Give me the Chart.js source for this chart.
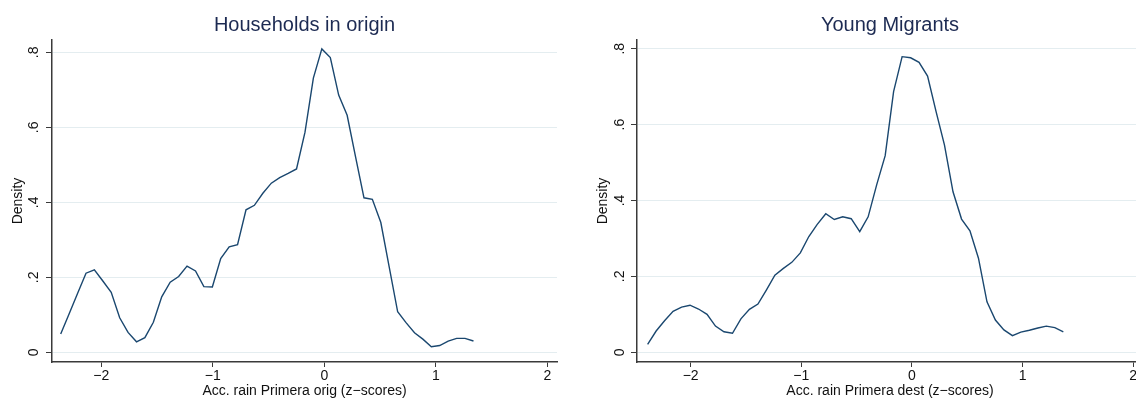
<!DOCTYPE html>
<html>
<head>
<meta charset="utf-8">
<script src="https://cdn.jsdelivr.net/npm/chart.js@4/dist/chart.umd.min.js"></script>
<style>
  html, body { margin: 0; padding: 0; background: #fff; overflow: hidden; width: 1136px; height: 400px; }
  .panel { position: absolute; top: 0; height: 400px; }
  #p1 { left: 0; width: 568px; }
  #p2 { left: 568px; width: 600px; }
</style>
</head>
<body>
<div class="panel" id="p1"><canvas id="c1" width="568" height="400"></canvas></div>
<div class="panel" id="p2"><canvas id="c2" width="600" height="400"></canvas></div>
<script>
// Axis ticks shared by both panels
const xTicks = [-2, -1, 0, 1, 2];
const xTickLabels = ['−2', '−1', '0', '1', '2'];
const yTicks = [0, 0.2, 0.4, 0.6, 0.8];
const yTickLabels = ['0', '.2', '.4', '.6', '.8'];

// Kernel density: households in origin
const originX = [-2.364, -2.288, -2.213, -2.137, -2.062, -1.986, -1.911, -1.835, -1.760, -1.684,
                 -1.609, -1.533, -1.458, -1.382, -1.306, -1.231, -1.155, -1.080, -1.004, -0.929,
                 -0.853, -0.778, -0.702, -0.627, -0.551, -0.475, -0.400, -0.324, -0.249, -0.173,
                 -0.098, -0.022, 0.054, 0.129, 0.205, 0.280, 0.356, 0.431, 0.507, 0.582,
                 0.658, 0.733, 0.809, 0.884, 0.960, 1.035, 1.111, 1.187, 1.262, 1.338];
const originDensity = [0.049, 0.103, 0.157, 0.211, 0.220, 0.190, 0.160, 0.092, 0.053, 0.028,
                       0.039, 0.080, 0.148, 0.187, 0.202, 0.230, 0.217, 0.175, 0.174, 0.250,
                       0.281, 0.287, 0.380, 0.392, 0.424, 0.451, 0.466, 0.477, 0.489, 0.587,
                       0.731, 0.809, 0.786, 0.686, 0.632, 0.522, 0.412, 0.408, 0.346, 0.228,
                       0.108, 0.079, 0.052, 0.035, 0.015, 0.018, 0.030, 0.037, 0.037, 0.030];

// Kernel density: young migrants
const migrantX = [-2.389, -2.312, -2.236, -2.159, -2.082, -2.006, -1.929, -1.852, -1.776, -1.699,
                  -1.622, -1.546, -1.469, -1.392, -1.316, -1.239, -1.162, -1.086, -1.009, -0.932,
                  -0.856, -0.779, -0.702, -0.626, -0.549, -0.472, -0.396, -0.319, -0.242, -0.166,
                  -0.089, -0.012, 0.064, 0.141, 0.218, 0.294, 0.371, 0.448, 0.524, 0.601,
                  0.678, 0.754, 0.831, 0.908, 0.984, 1.061, 1.138, 1.214, 1.291, 1.368];
const migrantDensity = [0.021, 0.056, 0.083, 0.108, 0.119, 0.124, 0.114, 0.100, 0.069, 0.054,
                        0.050, 0.088, 0.113, 0.127, 0.164, 0.203, 0.221, 0.237, 0.262, 0.305,
                        0.337, 0.365, 0.350, 0.357, 0.352, 0.318, 0.357, 0.441, 0.518, 0.687,
                        0.779, 0.776, 0.764, 0.728, 0.634, 0.546, 0.423, 0.351, 0.320, 0.248,
                        0.133, 0.085, 0.059, 0.044, 0.053, 0.058, 0.064, 0.069, 0.065, 0.054];

const FONT = '"Liberation Sans", Arial, Helvetica, sans-serif';
const LINE = '#1a476f';
const AXIS = '#3a3a3a';
const GRID = '#e4edf0';
const TEXT = '#111111';

function densityChart(canvasId, title, xTitle, xs, ys, g) {
  const points = xs.map((x, i) => ({ x: x, y: ys[i] }));
  return new Chart(document.getElementById(canvasId), {
    type: 'line',
    data: {
      datasets: [{
        data: points,
        borderColor: LINE,
        borderWidth: 1.4,
        pointRadius: 0,
        fill: false,
        tension: 0
      }]
    },
    options: {
      responsive: false,
      animation: false,
      devicePixelRatio: 1,
      layout: { padding: { left: 0, right: g.rightPad, top: 0, bottom: 0 } },
      plugins: {
        legend: { display: false },
        tooltip: { enabled: false },
        title: {
          display: true,
          text: title,
          fullSize: false,
          color: '#1c2a52',
          font: { family: FONT, size: 20, weight: 'normal', lineHeight: 1.2 },
          padding: { top: 13.5, bottom: 2.5 }
        }
      },
      scales: {
        x: {
          type: 'linear',
          min: g.xMin,
          max: g.xMax,
          afterBuildTicks: s => { s.ticks = xTicks.map(v => ({ value: v })); },
          afterFit: s => { s.height = 38; },
          border: { display: true, color: AXIS, width: 1.5 },
          grid: { drawOnChartArea: false, drawTicks: true, tickLength: 5, color: AXIS, tickColor: AXIS, tickWidth: 1 },
          ticks: {
            padding: 1,
            maxRotation: 0,
            autoSkip: false,
            color: TEXT,
            font: { family: FONT, size: 14 },
            callback: v => xTickLabels[xTicks.indexOf(v)]
          },
          title: {
            display: true,
            text: xTitle,
            color: TEXT,
            font: { family: FONT, size: 14 },
            padding: { top: 0, bottom: 0.5 }
          }
        },
        y: {
          type: 'linear',
          min: g.yMin,
          max: g.yMax,
          afterBuildTicks: s => { s.ticks = yTicks.map(v => ({ value: v })); },
          afterFit: s => { s.width = g.yWidth; },
          border: { display: true, color: AXIS, width: 1.5 },
          grid: { drawOnChartArea: true, drawTicks: true, tickLength: 6, color: GRID, lineWidth: 1, tickColor: AXIS, tickWidth: 1 },
          ticks: {
            minRotation: 90,
            maxRotation: 90,
            crossAlign: 'center',
            padding: g.yTickPad,
            autoSkip: false,
            color: TEXT,
            font: { family: FONT, size: 14 },
            callback: v => yTickLabels[yTicks.indexOf(v)]
          },
          title: {
            display: true,
            text: 'Density',
            color: TEXT,
            font: { family: FONT, size: 14 },
            padding: { top: g.yTitlePad, bottom: 0 }
          }
        }
      }
    }
  });
}

densityChart('c1', 'Households in origin', 'Acc. rain Primera orig (z−scores)', originX, originDensity, {
  xMin: -2.442, xMax: 2.087, yMin: -0.0259, yMax: 0.8328,
  yWidth: 52, rightPad: 11, yTickPad: 6, yTitlePad: 9.4
});

densityChart('c2', 'Young Migrants', 'Acc. rain Primera dest (z−scores)', migrantX, migrantDensity, {
  xMin: -2.485, xMax: 2.088, yMin: -0.0256, yMax: 0.8229,
  yWidth: 69, rightPad: 25, yTickPad: 5, yTitlePad: 26.6
});
</script>
</body>
</html>
